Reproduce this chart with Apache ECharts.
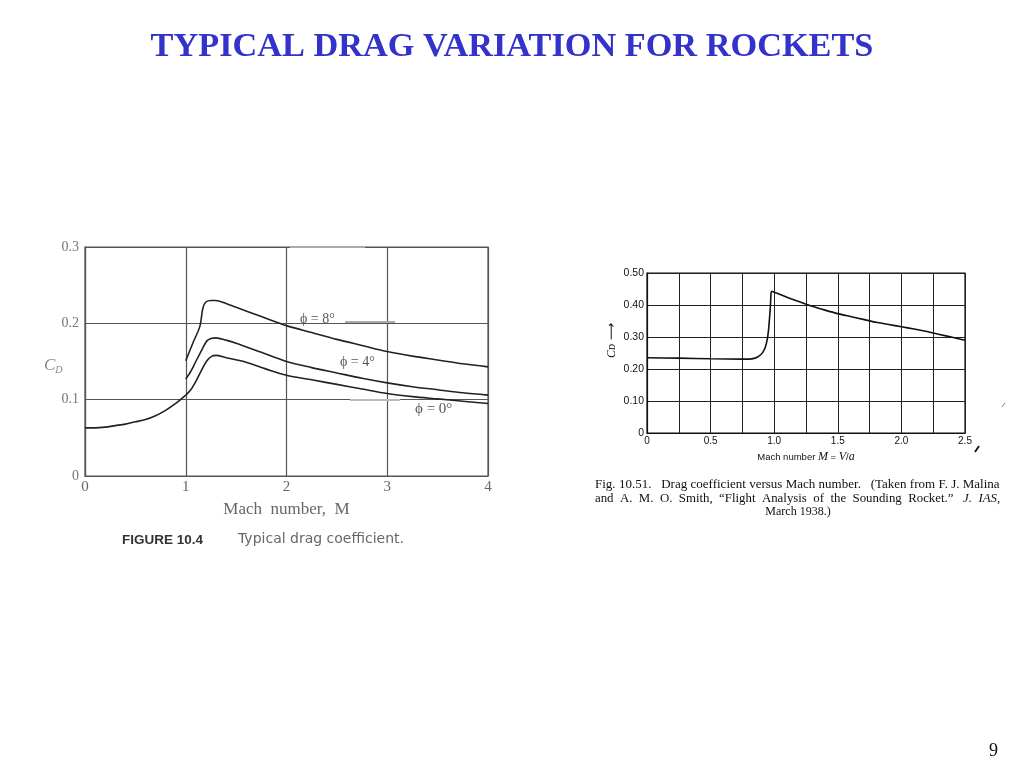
<!DOCTYPE html>
<html>
<head>
<meta charset="utf-8">
<script src="https://cdn.jsdelivr.net/npm/echarts@6/dist/echarts.min.js"></script>
<style>html,body{margin:0;padding:0;background:#fff;}#c{width:1024px;height:768px;}</style>
</head>
<body>
<div id="c"></div>
<script>
// ---- Left figure (FIGURE 10.4) data: [Mach, Cd] ----
var leftXTicks = [0, 1, 2, 3, 4];
var leftYTicks = [0, 0.1, 0.2, 0.3];
var subsonicBase = [[0,0.063],[0.1,0.063],[0.2,0.064],[0.3,0.066],[0.4,0.068],[0.5,0.071],[0.6,0.074],[0.7,0.079],[0.8,0.086],[0.9,0.095],[1.0,0.106]];
var phi0 = [[1.0,0.106],[1.05,0.113],[1.10,0.124],[1.17,0.142],[1.21,0.151],[1.26,0.157],[1.30,0.158],[1.4,0.155],[1.6,0.149],[1.8,0.140],[2.0,0.132],[2.25,0.126],[2.5,0.120],[2.75,0.114],[3.0,0.108],[3.25,0.104],[3.5,0.101],[3.75,0.098],[4.0,0.095]];
var phi4 = [[1.0,0.127],[1.05,0.137],[1.10,0.150],[1.17,0.168],[1.21,0.177],[1.25,0.180],[1.30,0.181],[1.4,0.178],[1.5,0.174],[1.75,0.162],[2.0,0.150],[2.25,0.142],[2.5,0.135],[2.75,0.128],[3.0,0.122],[3.25,0.117],[3.5,0.113],[3.75,0.109],[4.0,0.106]];
var phi8 = [[1.0,0.151],[1.07,0.174],[1.14,0.196],[1.17,0.220],[1.20,0.228],[1.25,0.230],[1.30,0.230],[1.4,0.226],[1.5,0.221],[1.75,0.209],[2.0,0.197],[2.25,0.188],[2.5,0.179],[2.75,0.171],[3.0,0.163],[3.25,0.157],[3.5,0.152],[3.75,0.147],[4.0,0.143]];
var leftLabels = ['\u03d5 = 8\u00b0', '\u03d5 = 4\u00b0', '\u03d5 = 0\u00b0'];

// ---- Right figure (Fig. 10.51) data: [Mach, Cd] ----
var rightXTicks = [0, 0.5, 1.0, 1.5, 2.0, 2.5];
var rightYTicks = [0, 0.10, 0.20, 0.30, 0.40, 0.50];
var rocketCd = [[0,0.235],[0.25,0.234],[0.5,0.232],[0.75,0.231],[0.80,0.231],[0.85,0.234],[0.88,0.240],[0.91,0.252],[0.93,0.268],[0.945,0.292],[0.955,0.320],[0.962,0.353],[0.97,0.395],[0.975,0.437],[0.98,0.443],
                [1.0,0.440],[1.1,0.424],[1.2,0.410],[1.3,0.396],[1.4,0.384],[1.5,0.373],[1.6,0.364],[1.7,0.355],[1.8,0.346],[1.9,0.339],[2.0,0.332],[2.1,0.325],[2.2,0.317],[2.3,0.308],[2.4,0.299],[2.5,0.290]];

var chart = echarts.init(document.getElementById('c'));
var serif = "'Liberation Serif','Times New Roman',serif";
var sans = "'Liberation Sans',Arial,sans-serif";
var lineStyleL = {color:'#222', width:1.6};

chart.setOption({
  animation:false,
  backgroundColor:'#fff',
  title:{
    text:'TYPICAL DRAG VARIATION FOR ROCKETS',
    left:'center', top:25,
    textStyle:{fontFamily:serif, fontWeight:'bold', fontSize:34.3, color:'#3333cc'}
  },
  grid:[
    {left:85, top:247, width:403, height:229, show:true, borderColor:'#555', borderWidth:1.2, backgroundColor:'transparent'},
    {left:647, top:273, width:318, height:160, show:true, borderColor:'#111', borderWidth:1.2, backgroundColor:'transparent'}
  ],
  xAxis:[
    {gridIndex:0, type:'value', min:0, max:4, interval:1,
     axisLine:{show:true, lineStyle:{color:'#555', width:1.2}}, axisTick:{show:false},
     splitLine:{show:true, lineStyle:{color:'#555', width:1.2}},
     axisLabel:{fontFamily:serif, fontSize:15, color:'#666', margin:4},
     name:'Mach  number,  M', nameLocation:'middle', nameGap:25,
     nameTextStyle:{fontFamily:serif, fontSize:17, color:'#666'}},
    {gridIndex:1, type:'value', min:0, max:2.5, interval:0.25,
     axisLine:{show:true, lineStyle:{color:'#111', width:1.2}}, axisTick:{show:false},
     splitLine:{show:true, lineStyle:{color:'#222', width:1}},
     axisLabel:{fontFamily:sans, fontSize:10, color:'#111', margin:3,
       formatter:function(v){ var r=Math.round(v*100)/100; if(rightXTicks.indexOf(r)<0) return ''; return r===0?'0':r.toFixed(1);} ,
       showMinLabel:true, showMaxLabel:true},
     name:'{n|Mach number }{i|M}{n| = }{i|V}{n|/}{i|a}', nameLocation:'middle', nameGap:18,
     nameTextStyle:{rich:{n:{fontFamily:sans, fontSize:9.5, color:'#111'}, i:{fontFamily:serif, fontStyle:'italic', fontSize:12, color:'#111'}}}}
  ],
  yAxis:[
    {gridIndex:0, type:'value', min:0, max:0.3, interval:0.1,
     axisLine:{show:true, lineStyle:{color:'#555', width:1.2}}, axisTick:{show:false},
     splitLine:{show:true, lineStyle:{color:'#555', width:1.2}},
     axisLabel:{fontFamily:serif, fontSize:14, color:'#777', margin:6,
       formatter:function(v){ return v===0?'0':(Math.round(v*10)/10).toFixed(1);}}},
    {gridIndex:1, type:'value', min:0, max:0.5, interval:0.1,
     axisLine:{show:true, lineStyle:{color:'#111', width:1.2}}, axisTick:{show:false},
     splitLine:{show:true, lineStyle:{color:'#222', width:1}},
     axisLabel:{fontFamily:sans, fontSize:10.5, color:'#111', margin:3,
       formatter:function(v){ return v===0?'0':(Math.round(v*100)/100).toFixed(2);}}}
  ],
  series:[
    {type:'line', xAxisIndex:0, yAxisIndex:0, data:subsonicBase, smooth:0.3, symbol:'none', lineStyle:lineStyleL},
    {type:'line', xAxisIndex:0, yAxisIndex:0, data:phi0, smooth:0.3, symbol:'none', lineStyle:lineStyleL},
    {type:'line', xAxisIndex:0, yAxisIndex:0, data:phi4, smooth:0.3, symbol:'none', lineStyle:lineStyleL},
    {type:'line', xAxisIndex:0, yAxisIndex:0, data:phi8, smooth:0.3, symbol:'none', lineStyle:lineStyleL},
    {type:'line', xAxisIndex:1, yAxisIndex:1, data:rocketCd, smooth:0.2, symbol:'none', lineStyle:{color:'#111', width:1.6}}
  ],
  graphic:[
    // scan-like grey leader marks on left figure
    {type:'line', shape:{x1:290,y1:247,x2:365,y2:247}, style:{stroke:'#aaa', lineWidth:2}, z:1},
    {type:'line', shape:{x1:345,y1:322,x2:395,y2:322}, style:{stroke:'#aaa', lineWidth:2}, z:1},
    {type:'line', shape:{x1:350,y1:400,x2:400,y2:400}, style:{stroke:'#bbb', lineWidth:2}, z:1},
    // stray marks right figure
    {type:'line', shape:{x1:975,y1:452,x2:979,y2:446}, style:{stroke:'#111', lineWidth:1.8}, z:1},
    {type:'line', shape:{x1:1002,y1:407,x2:1005,y2:403}, style:{stroke:'#777', lineWidth:1}, z:1},
    // curve labels
    {type:'text', left:300, top:312, style:{text:leftLabels[0], font:'14px '+serif, fill:'#555'}, z:10},
    {type:'text', left:340, top:355, style:{text:leftLabels[1], font:'14px '+serif, fill:'#555'}, z:10},
    {type:'text', left:415, top:402, style:{text:leftLabels[2], font:'15px '+serif, fill:'#555'}, z:10},
    // C_D label left
    {type:'text', left:44, top:357, style:{rich:{c:{fontFamily:serif, fontStyle:'italic', fontSize:17, fill:'#888'}, d:{fontFamily:serif, fontStyle:'italic', fontSize:10, fill:'#888', padding:[9,0,0,0]}}, text:'{c|C}{d|D}'}, z:10},
    // Figure caption left
    {type:'text', left:122, top:533, style:{text:'FIGURE 10.4', font:'bold 13.5px '+sans, fill:'#333'}, z:10},
    {type:'text', left:238, top:532, style:{text:'Typical drag coefficient.', font:'14px "DejaVu Sans",sans-serif', fill:'#666'}, z:10},
    // C_D arrow label right (rotated)
    {type:'text', x:612, y:341, rotation:Math.PI/2, style:{text:'C\u1d05 \u27f6', font:'italic 12px '+serif, fill:'#111', align:'center', verticalAlign:'middle'}, z:10},
    // Right caption
    {type:'text', x:595, y:479, scaleX:1.085, style:{text:'Fig. 10.51.   Drag coefficient versus Mach number.   (Taken from F. J. Malina', font:'12px '+serif, fill:'#111'}, z:10},
    {type:'text', x:595, y:492.5, scaleX:1.07, style:{rich:{n:{fontFamily:serif, fontSize:12, fill:'#111'}, i:{fontFamily:serif, fontStyle:'italic', fontSize:12, fill:'#111'}}, text:'{n|and  A.  M.  O.  Smith,  \u201cFlight  Analysis  of  the  Sounding  Rocket.\u201d   }{i|J.  IAS}{n|,}'}, z:10},
    {type:'text', x:798, y:506, style:{text:'March 1938.)', font:'12px '+serif, fill:'#111', align:'center'}, z:10},
    // page number
    {type:'text', left:989, top:742, style:{text:'9', font:'18px '+serif, fill:'#111'}, z:10}
  ]
});
</script>
</body>
</html>
